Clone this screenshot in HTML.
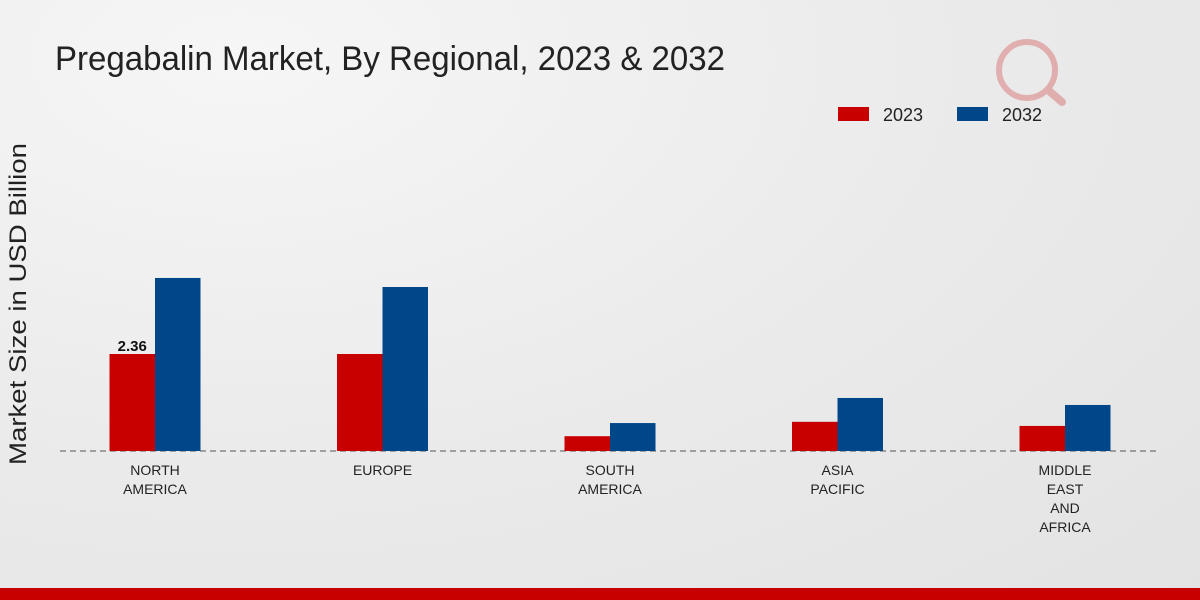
<!DOCTYPE html>
<html><head><meta charset="utf-8"><style>
html,body{margin:0;padding:0;width:1200px;height:600px;overflow:hidden}
body{background:radial-gradient(ellipse at 20% 10%,#f6f6f6 0%,#ebebeb 50%,#e3e3e3 100%);font-family:"Liberation Sans",sans-serif}
</style></head><body>
<svg width="1200" height="600" id="chart">
<text x="55" y="70" font-size="34" fill="#222" textLength="670" lengthAdjust="spacingAndGlyphs">Pregabalin Market, By Regional, 2023 &amp; 2032</text>
<text transform="translate(26,304) rotate(-90)" text-anchor="middle" font-size="24" fill="#222" textLength="322" lengthAdjust="spacingAndGlyphs">Market Size in USD Billion</text>
<g>
<rect x="838" y="107" width="31" height="14" fill="#c80000"/>
<text x="883" y="121" font-size="18" fill="#222">2023</text>
<rect x="957" y="107" width="31" height="14" fill="#00478a"/>
<text x="1002" y="121" font-size="18" fill="#222">2032</text>
</g>
<line x1="60" y1="451" x2="1160" y2="451" stroke="#555" stroke-dasharray="6,4"/>
<g id="bars"></g>
<g id="labels"></g>
<g opacity="0.25">
<circle cx="1027" cy="70" r="28" fill="none" stroke="#c80000" stroke-width="6"/>
<line x1="1048" y1="90" x2="1062" y2="102" stroke="#c80000" stroke-width="8" stroke-linecap="round"/>
</g>
<rect x="0" y="588" width="1200" height="12" fill="#c80000"/>
</svg>
<script>
const categories=[["NORTH","AMERICA"],["EUROPE"],["SOUTH","AMERICA"],["ASIA","PACIFIC"],["MIDDLE","EAST","AND","AFRICA"]];
const values2023=[2.36,2.36,0.36,0.71,0.61];
const values2032=[4.21,3.99,0.68,1.29,1.12];
const valueLabels=["2.36","","","",""];
const NS="http://www.w3.org/2000/svg";
const base=451,scale=41.1,x0=155,step=227.5,bw=45.5;
const xs=i=>x0+i*step, ys=v=>base-v*scale;
const bars=document.getElementById('bars'),labels=document.getElementById('labels');
categories.forEach((c,i)=>{
  [[values2023,"#c80000",-bw,"2023"],[values2032,"#00478a",0,"2032"]].forEach(([arr,col,off,yr])=>{
    const r=document.createElementNS(NS,'rect');
    r.setAttribute('x',xs(i)+off);r.setAttribute('y',ys(arr[i]));
    r.setAttribute('width',bw);r.setAttribute('height',base-ys(arr[i]));r.setAttribute('fill',col);
    
    
    bars.appendChild(r);
  });
  if(valueLabels[i]){
    const t=document.createElementNS(NS,'text');
    t.setAttribute('x',xs(i)-bw/2);t.setAttribute('y',ys(values2023[i])-3);
    t.setAttribute('text-anchor','middle');t.setAttribute('font-size','15');t.setAttribute('font-weight','bold');t.setAttribute('fill','#111');
    t.textContent=valueLabels[i];
    
    
    labels.appendChild(t);
  }
  c.forEach((line,j)=>{
    const t=document.createElementNS(NS,'text');
    t.setAttribute('x',xs(i));t.setAttribute('y',475+j*19);
    t.setAttribute('text-anchor','middle');t.setAttribute('font-size','14');t.setAttribute('fill','#222');
    t.textContent=line;
    
    
    labels.appendChild(t);
  });
});
</script>
</body></html>
